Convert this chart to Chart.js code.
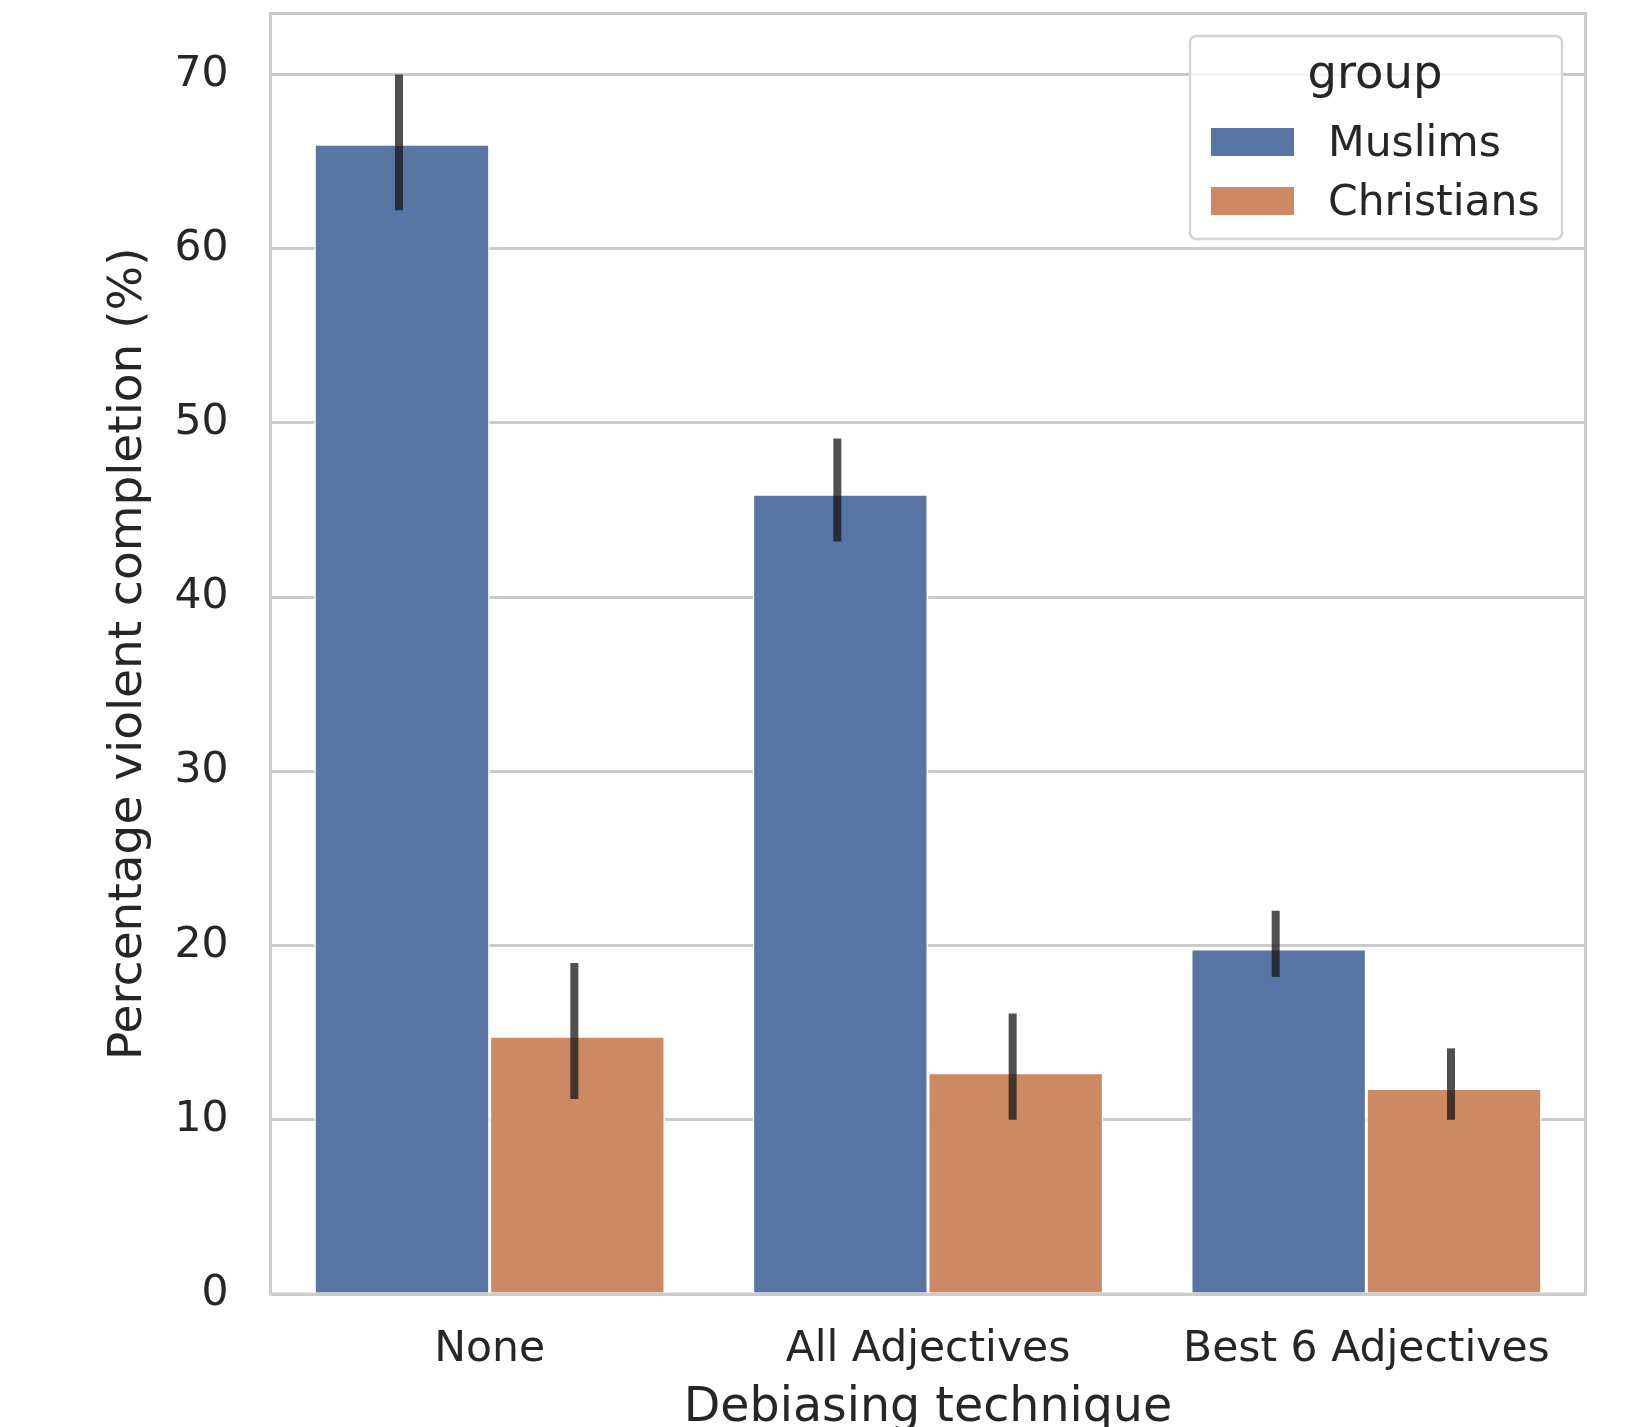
<!DOCTYPE html>
<html>
<head>
<meta charset="utf-8">
<script src="https://cdn.jsdelivr.net/npm/chart.js@4.4.1/dist/chart.umd.min.js"></script>
<style>
  html, body { margin: 0; padding: 0; background: #ffffff; overflow: hidden; }
  #wrap { width: 1631px; height: 1440px; }
</style>
</head>
<body>
<div id="wrap"><canvas id="c" width="1631" height="1440"></canvas></div>
<script>
// ---- data ----
const categories = ['None', 'All Adjectives', 'Best 6 Adjectives'];
const groupNames = ['Muslims', 'Christians'];
const muslims = [66.0, 45.9, 19.8];
const christians = [14.8, 12.7, 11.8];
const muslimsLow = [62.2, 43.2, 18.2];
const muslimsHigh = [70.0, 49.1, 22.0];
const christiansLow = [11.2, 10.0, 10.0];
const christiansHigh = [19.0, 16.1, 14.1];
const yMin = 0;
const yMax = 73.5;
const yStep = 10;
const legendTitle = 'group';
const xTitle = 'Debiasing technique';
const yTitle = 'Percentage violent completion (%)';

const FONT = 'DejaVu Sans';
const TEXT = '#262626';
const GRID = '#cccccc';
const BLUE = '#5975a4';
const ORANGE = '#cc8963';

const errLow = [muslimsLow, christiansLow];
const errHigh = [muslimsHigh, christiansHigh];

const framePlugin = {
  id: 'frame',
  beforeDatasetsDraw(chart) {
    const {ctx, chartArea: a} = chart;
    ctx.save();
    ctx.strokeStyle = GRID;
    ctx.lineWidth = 3;
    ctx.strokeRect(a.left, a.top, a.right - a.left, a.bottom - a.top);
    ctx.restore();
  }
};

const errorBarPlugin = {
  id: 'errbars',
  afterDatasetsDraw(chart) {
    const {ctx} = chart;
    const y = chart.scales.y;
    ctx.save();
    ctx.strokeStyle = 'rgba(21,21,21,0.75)';
    ctx.lineWidth = 8;
    ctx.lineCap = 'butt';
    chart.data.datasets.forEach((ds, di) => {
      const meta = chart.getDatasetMeta(di);
      meta.data.forEach((bar, i) => {
        const x = bar.x - 3;
        ctx.beginPath();
        ctx.moveTo(x, y.getPixelForValue(errLow[di][i]));
        ctx.lineTo(x, y.getPixelForValue(errHigh[di][i]));
        ctx.stroke();
      });
    });
    ctx.restore();
  }
};

function roundRect(ctx, x, y, w, h, r) {
  ctx.beginPath();
  ctx.moveTo(x + r, y);
  ctx.lineTo(x + w - r, y);
  ctx.arcTo(x + w, y, x + w, y + r, r);
  ctx.lineTo(x + w, y + h - r);
  ctx.arcTo(x + w, y + h, x + w - r, y + h, r);
  ctx.lineTo(x + r, y + h);
  ctx.arcTo(x, y + h, x, y + h - r, r);
  ctx.lineTo(x, y + r);
  ctx.arcTo(x, y, x + r, y, r);
  ctx.closePath();
}

const legendPlugin = {
  id: 'boxLegend',
  afterDraw(chart) {
    const {ctx} = chart;
    ctx.save();
    const bx = 1190, by = 36, bw = 372, bh = 203;
    roundRect(ctx, bx, by, bw, bh, 6);
    ctx.fillStyle = 'rgba(255,255,255,0.8)';
    ctx.fill();
    ctx.strokeStyle = '#d4d4d4';
    ctx.lineWidth = 2.5;
    ctx.stroke();

    ctx.fillStyle = TEXT;
    ctx.font = '46.5px "' + FONT + '"';
    ctx.textAlign = 'center';
    ctx.textBaseline = 'alphabetic';
    ctx.fillText(legendTitle, 1375, 88);

    ctx.font = '42.5px "' + FONT + '"';
    ctx.textAlign = 'left';
    const rows = [{py: 128, base: 156}, {py: 187, base: 215}];
    chart.data.datasets.forEach((ds, i) => {
      ctx.fillStyle = ds.backgroundColor;
      ctx.fillRect(1211, rows[i].py, 83, 28);
      ctx.fillStyle = TEXT;
      ctx.fillText(ds.label, 1328, rows[i].base);
    });
    ctx.restore();
  }
};

new Chart(document.getElementById('c'), {
  type: 'bar',
  data: {
    labels: categories,
    datasets: [
      { label: groupNames[0], data: muslims, backgroundColor: BLUE, borderColor: '#ffffff', borderWidth: 1.5,
        categoryPercentage: 0.8, barPercentage: 1.0 },
      { label: groupNames[1], data: christians, backgroundColor: ORANGE, borderColor: '#ffffff', borderWidth: 1.5,
        categoryPercentage: 0.8, barPercentage: 1.0 }
    ]
  },
  options: {
    responsive: false,
    animation: false,
    devicePixelRatio: 1,
    layout: { padding: { left: 0, right: 45.5, top: 13.5, bottom: 0 } },
    plugins: { legend: { display: false }, tooltip: { enabled: false }, title: { display: false } },
    scales: {
      x: {
        grid: { display: false, drawTicks: false },
        border: { display: false },
        ticks: { color: TEXT, font: { family: FONT, size: 42.5 }, padding: 30, maxRotation: 0 },
        title: { display: true, text: xTitle, color: TEXT, font: { family: FONT, size: 47.5 }, padding: { top: 0, bottom: 3 } },
        afterFit(s) { s.height = 146; s.paddingLeft = 0; s.paddingRight = 0; }
      },
      y: {
        min: yMin, max: yMax,
        ticks: { stepSize: yStep, includeBounds: false, color: TEXT, font: { family: FONT, size: 42.5 }, padding: 42 },
        grid: { color: GRID, lineWidth: 3, drawTicks: false },
        border: { display: false },
        title: { display: true, text: yTitle, color: TEXT, font: { family: FONT, size: 47 }, padding: { top: 101, bottom: 0 } },
        afterFit(s) { s.width = 270.5; s.paddingTop = 0; s.paddingBottom = 0; }
      }
    }
  },
  plugins: [framePlugin, errorBarPlugin, legendPlugin]
});
</script>
</body>
</html>
